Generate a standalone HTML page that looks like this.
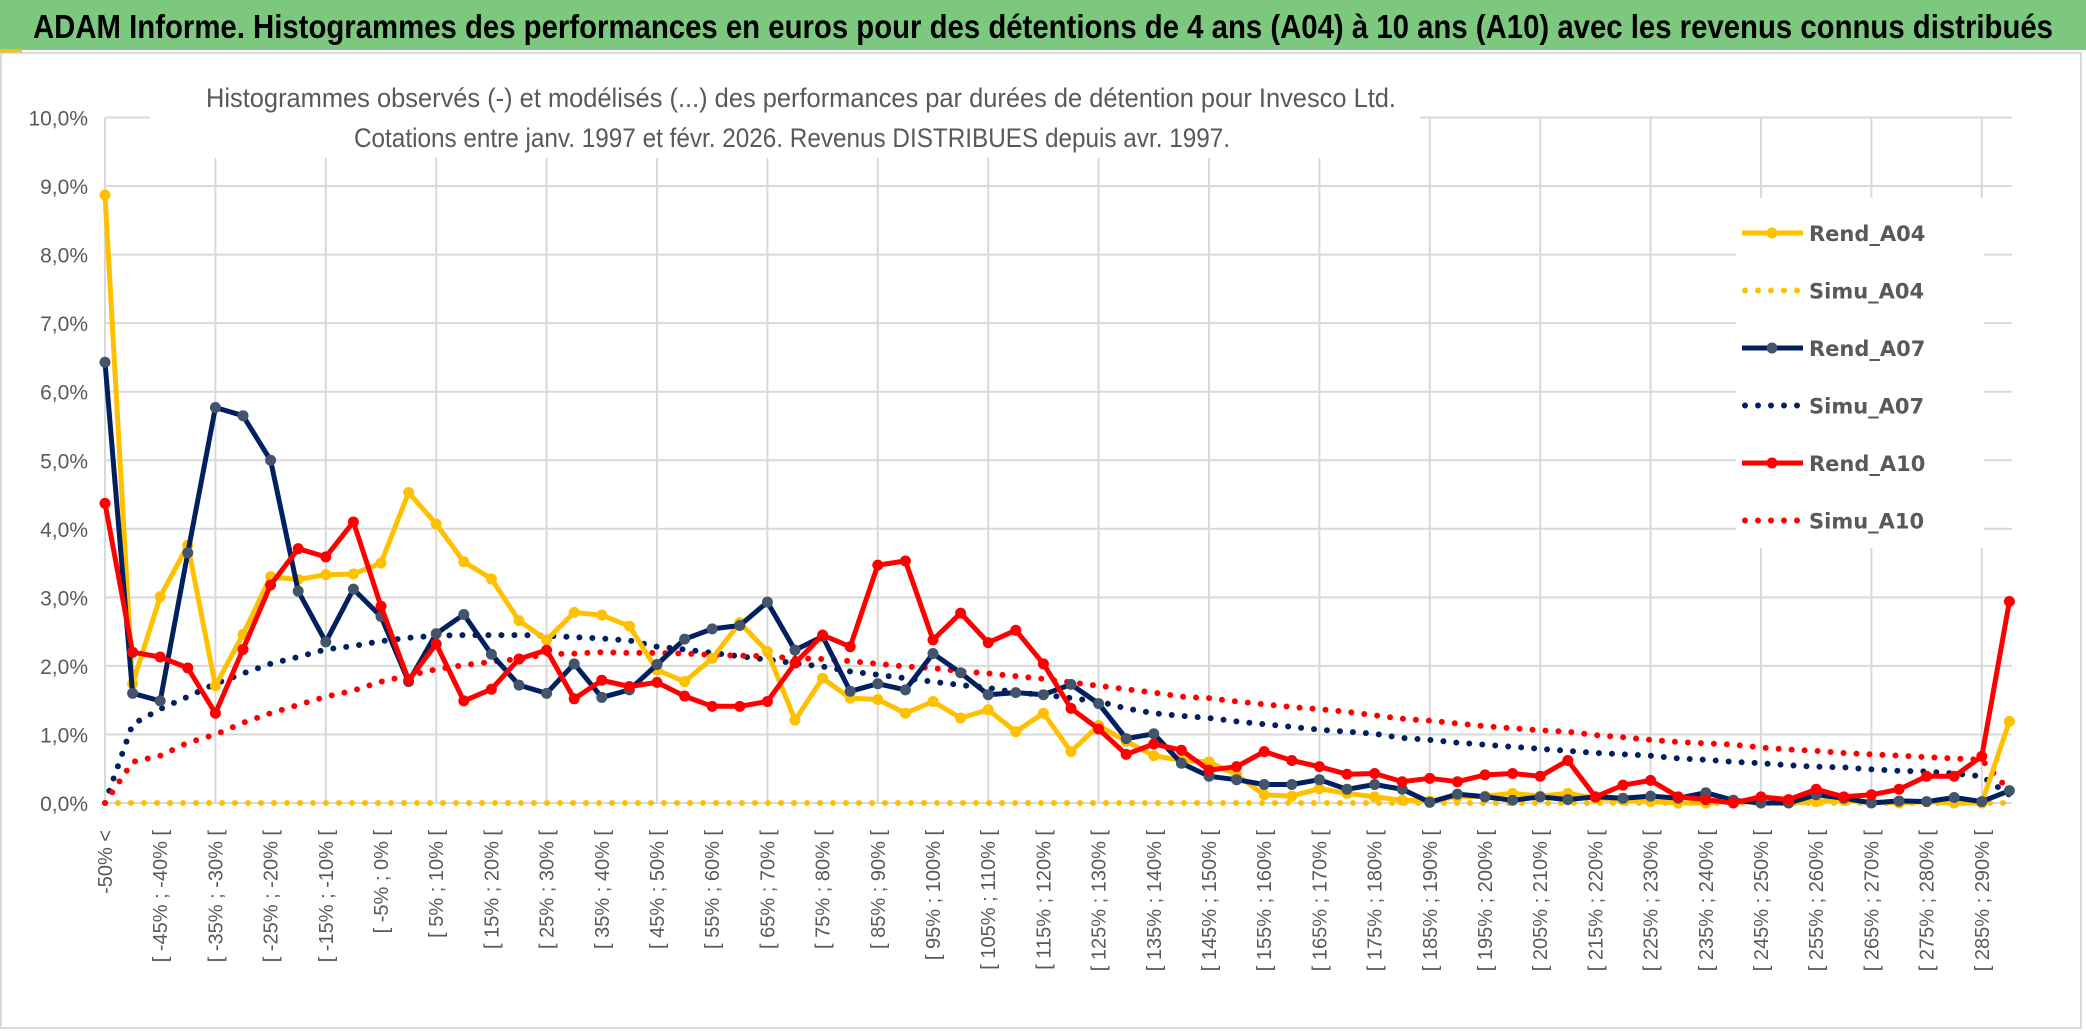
<!DOCTYPE html>
<html><head><meta charset="utf-8"><style>
html,body{margin:0;padding:0;background:#fff;}
svg{display:block;}
</style></head><body>
<svg id="chart" width="2086" height="1031" viewBox="0 0 2086 1031" xmlns="http://www.w3.org/2000/svg">
<rect x="0" y="0" width="2086" height="1031" fill="#fff"/>
<rect x="0" y="0" width="2086" height="50" fill="#7DC87F"/>
<rect x="0" y="49" width="22" height="4" fill="#FFC000"/>
<text x="33" y="38" textLength="2020" lengthAdjust="spacingAndGlyphs" font-family="Liberation Sans, sans-serif" font-weight="bold" font-size="33" fill="#000">ADAM Informe. Histogrammes des performances en euros pour des détentions de 4 ans (A04) à 10 ans (A10) avec les revenus connus distribués</text>
<rect x="1" y="53" width="2080" height="975" fill="none" stroke="#cfcfcf" stroke-width="1.5"/>
<g id="grid"></g>
<rect x="150" y="70" width="1270" height="88" fill="#fff"/>
<rect x="1736" y="198" width="248" height="350" fill="#fff"/>
<text x="801" y="107" text-anchor="middle" textLength="1190" lengthAdjust="spacingAndGlyphs" font-family="Liberation Sans, sans-serif" font-size="27" fill="#595959">Histogrammes observés (-) et modélisés (...) des performances par durées de détention pour Invesco Ltd.</text>
<text x="792" y="147" text-anchor="middle" textLength="876" lengthAdjust="spacingAndGlyphs" font-family="Liberation Sans, sans-serif" font-size="27" fill="#595959">Cotations entre janv. 1997 et févr. 2026. Revenus DISTRIBUES depuis avr. 1997.</text>
<g id="yaxis"></g>
<g id="xaxis"></g>
<g id="series"></g>
<g id="legend"></g>
</svg>
<script>
const rendA04=[8.87,1.74,3.01,3.76,1.71,2.46,3.30,3.26,3.33,3.34,3.50,4.53,4.07,3.52,3.27,2.66,2.38,2.78,2.74,2.58,1.94,1.77,2.11,2.63,2.21,1.21,1.82,1.53,1.51,1.31,1.48,1.24,1.36,1.04,1.31,0.75,1.13,0.90,0.69,0.62,0.60,0.41,0.12,0.10,0.21,0.14,0.09,0.04,0.03,0.09,0.10,0.14,0.10,0.14,0.07,0.04,0.02,0.0,0.0,0.04,0.0,0.0,0.02,0.04,0.02,0.0,0.02,0.0,0.0,1.19];
const rendA07=[6.43,1.60,1.49,3.65,5.77,5.65,5.00,3.09,2.35,3.12,2.72,1.77,2.47,2.75,2.17,1.72,1.60,2.03,1.54,1.65,2.02,2.39,2.54,2.59,2.93,2.23,2.43,1.63,1.74,1.65,2.18,1.90,1.58,1.61,1.58,1.73,1.45,0.94,1.01,0.58,0.39,0.34,0.27,0.27,0.34,0.20,0.27,0.20,0.01,0.13,0.09,0.04,0.09,0.05,0.09,0.07,0.10,0.07,0.15,0.04,0.0,0.0,0.12,0.07,0.0,0.03,0.02,0.08,0.02,0.18];
const rendA10=[4.37,2.20,2.13,1.97,1.31,2.24,3.18,3.71,3.59,4.10,2.87,1.79,2.32,1.49,1.66,2.10,2.23,1.52,1.79,1.70,1.76,1.56,1.41,1.41,1.48,2.04,2.45,2.28,3.47,3.53,2.38,2.77,2.34,2.52,2.03,1.38,1.08,0.71,0.86,0.77,0.48,0.53,0.75,0.62,0.53,0.42,0.43,0.31,0.36,0.31,0.41,0.43,0.39,0.62,0.09,0.26,0.33,0.09,0.05,0.0,0.09,0.05,0.20,0.09,0.12,0.20,0.39,0.39,0.68,2.94];
const simuA04=new Array(70).fill(0);
const simuA07=[0.0,1.15,1.37,1.55,1.74,1.89,2.03,2.13,2.24,2.29,2.36,2.41,2.44,2.45,2.45,2.45,2.44,2.42,2.40,2.37,2.28,2.24,2.19,2.14,2.09,2.04,1.99,1.92,1.87,1.82,1.77,1.72,1.68,1.61,1.58,1.53,1.48,1.38,1.31,1.27,1.24,1.19,1.15,1.11,1.07,1.04,1.01,0.95,0.92,0.88,0.85,0.82,0.79,0.76,0.73,0.71,0.69,0.65,0.63,0.60,0.58,0.55,0.53,0.52,0.49,0.47,0.46,0.43,0.39,0.12];
const simuA10=[0.0,0.60,0.69,0.88,1.00,1.17,1.31,1.43,1.55,1.64,1.77,1.86,1.95,2.01,2.06,2.10,2.17,2.18,2.20,2.19,2.19,2.18,2.16,2.15,2.14,2.11,2.10,2.07,2.03,1.99,1.97,1.92,1.89,1.85,1.81,1.76,1.71,1.66,1.61,1.55,1.53,1.48,1.44,1.40,1.37,1.33,1.28,1.23,1.20,1.16,1.12,1.09,1.06,1.04,0.99,0.96,0.92,0.89,0.87,0.85,0.81,0.78,0.76,0.73,0.71,0.69,0.67,0.65,0.63,0.18];
const yTicks=[0,1,2,3,4,5,6,7,8,9,10];
const NS='http://www.w3.org/2000/svg';
const X0=105,STEP=27.6,Y0=803,YS=68.55;
function xs(i){return X0+STEP*i;}
function ys(v){return Y0-v*YS;}
function el(t,a,p){const e=document.createElementNS(NS,t);for(const k in a)e.setAttribute(k,a[k]);p.appendChild(e);return e;}
const n=rendA04.length;
const cats=[];
for(let i=0;i<n;i++){ if(i===0)cats.push('-50% <'); else {const a=-55+5*i;cats.push('[ '+a+'% ; '+(a+5)+'% [');} }
const grid=document.getElementById('grid');
const xRight=2012;
yTicks.forEach(t=>{
 const g=el('line',{x1:X0,x2:xRight,y1:ys(t),y2:ys(t),stroke:'#d9d9d9','stroke-width':2},grid);
 
 
});
for(let i=4;i<n;i+=4){
 const g=el('line',{x1:xs(i),x2:xs(i),y1:ys(10),y2:Y0,stroke:'#d9d9d9','stroke-width':2},grid);
 
 
}
const ax=el('line',{x1:X0,x2:X0,y1:ys(10),y2:Y0,stroke:'#d9d9d9','stroke-width':2},grid);


const ya=document.getElementById('yaxis');
yTicks.forEach(t=>{
 const tx=el('text',{x:88,y:ys(t)+8,'text-anchor':'end','font-family':'Liberation Sans, sans-serif','font-size':21,fill:'#595959'},ya);
 tx.textContent=t.toFixed(1).replace('.',',')+'%';
 
 
});
const xa=document.getElementById('xaxis');
for(let i=0;i<n;i+=2){
 const x=xs(i)+7,y=830;
 const tx=el('text',{x:x,y:y,'text-anchor':'end',transform:'rotate(-90 '+x+' '+y+')','font-family':'Liberation Sans, sans-serif','font-size':20,fill:'#595959'},xa);
 tx.textContent=cats[i];
 
 
}
const sg=document.getElementById('series');
function pts(arr){return arr.map((v,i)=>xs(i).toFixed(1)+','+ys(v).toFixed(1)).join(' ');}
function dotted(arr,color,name){
 const p=el('polyline',{points:pts(arr),fill:'none',stroke:color,'stroke-width':6,'stroke-linecap':'round','stroke-dasharray':'0 13'},sg);
 
 
}
function solid(arr,color,mk,name){
 const p=el('polyline',{points:pts(arr),fill:'none',stroke:color,'stroke-width':5,'stroke-linejoin':'round'},sg);
 
 
 arr.forEach((v,i)=>{
  const c=el('circle',{cx:xs(i),cy:ys(v),r:5.5,fill:mk},sg);
  
  
 });
}
dotted(simuA04,'#FFC000','simu-a04-line');
dotted(simuA07,'#002060','simu-a07-line');
dotted(simuA10,'#FF0000','simu-a10-line');
solid(rendA04,'#FFC000','#FFC000','rend-a04-line');
solid(rendA07,'#002060','#44546A','rend-a07-line');
solid(rendA10,'#FF0000','#FF0000','rend-a10-line');
const lg=document.getElementById('legend');
const items=[['Rend_A04','#FFC000','#FFC000',false],['Simu_A04','#FFC000',null,true],['Rend_A07','#002060','#44546A',false],['Simu_A07','#002060',null,true],['Rend_A10','#FF0000','#FF0000',false],['Simu_A10','#FF0000',null,true]];
items.forEach((it,k)=>{
 const y=233+57.5*k;
 const g=el('g',{},lg);
 
 
 if(it[3]){el('line',{x1:1745,x2:1800,y1:y,y2:y,stroke:it[1],'stroke-width':6,'stroke-linecap':'round','stroke-dasharray':'0 13'},g);}
 else{el('line',{x1:1742,x2:1803,y1:y,y2:y,stroke:it[1],'stroke-width':5},g);el('circle',{cx:1772,cy:y,r:5.5,fill:it[2]},g);}
 const t=el('text',{x:1809,y:y+8,'font-family':'DejaVu Sans, sans-serif','font-weight':'bold','font-size':21,fill:'#595959'},g);
 t.textContent=it[0];
});
</script>
</body></html>
